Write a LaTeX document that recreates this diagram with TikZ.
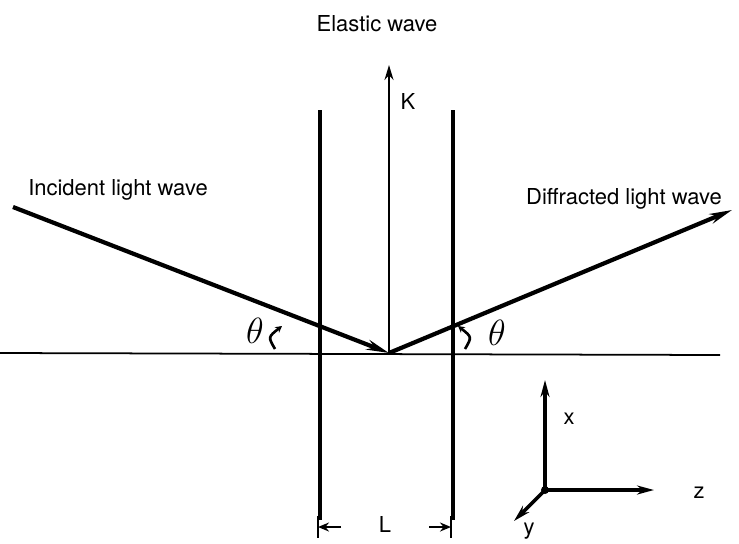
\documentclass[tikz,border=0pt]{standalone}
\usepackage{fontspec}
\setmainfont{TeX Gyre Heros}
\usepackage{tikz}
\usetikzlibrary{positioning,arrows.meta,calc}

\begin{document}
\begin{tikzpicture}[
		x=0.2mm, y=-0.2mm,
		font=\fontsize{12.5}{14}\selectfont,
		lbl/.style={inner sep=1pt},
		plate/.style={line width=2.4pt},
		wave/.style={line width=2.4pt, -{Stealth[length=4.5mm,width=2mm]}},
		thin/.style={line width=1pt},
		ax/.style={line width=2pt, -{Stealth[length=3.4mm,width=1.8mm]}},
		ang/.style={line width=1.5pt, -{Stealth[length=1.3mm,width=1.4mm]}},
		theta/.style={inner sep=1pt, font=\fontsize{21}{22}\selectfont}
		]
		\useasboundingbox (0,0) rectangle (739,543);
		% points
		\coordinate (o) at (389,353);
		\coordinate (src) at (13,207);
		\coordinate (dst) at (732,210);
		\coordinate (kt) at (389,65);
		\coordinate (hl) at (0,353);
		\coordinate (hr) at (720,355);
		\coordinate (p1t) at (320,110);
		\coordinate (p1b) at (320,520);
		\coordinate (p2t) at (453,110);
		\coordinate (p2b) at (453,520);
		% plates and surface
		\draw[thin] (hl) -- (hr);
		\draw[plate] (p1t) -- (p1b);
		\draw[plate] (p2t) -- (p2b);
		% elastic wave vector
		\draw[line width=1.2pt, -{Stealth[length=3mm,width=1.8mm]}] (o) -- (kt);
		\node[lbl] (elastic) at (377,24) {Elastic wave};
		\node[lbl] (klbl) at (408,101) {K};
		% light waves
		\draw[wave] (src) -- (o);
		\draw[wave] (o) -- (dst);
		\node[lbl] (incident) at (118,190) {Incident light wave};
		\node[lbl] (diffracted) at (624,199) {Diffracted light wave};
		% angles
		\node[theta] (thl) at (255,331) {$\theta$};
		\node[theta] (thr) at (497,333) {$\theta$};
		\draw[ang] (275,349) .. controls (268,337) .. (282,326);
		\draw[ang] (465,349) .. controls (472,337) .. (458,326);
		% width L
		\coordinate (l1) at (318,527);
		\coordinate (l2) at (451,527);
		\draw[line width=1.4pt] (318,516) -- (318,538);
		\draw[line width=1.4pt] (451,516) -- (451,538);
		\node[lbl] (len) at (385,524) {L};
		\draw[line width=1.4pt, -{Stealth[length=2.2mm,width=1.8mm]}] (341,527) -- (l1);
		\draw[line width=1.4pt, -{Stealth[length=2.2mm,width=1.8mm]}] (429,527) -- (l2);
		% axes
		\coordinate (ax0) at (545,490);
		\coordinate (axx) at (545,380);
		\coordinate (axz) at (654,490);
		\coordinate (axy) at (514,521);
		\fill (ax0) circle (4);
		\draw[ax] (ax0) -- (axx);
		\draw[ax] (ax0) -- (axz);
		\draw[ax] (ax0) -- (axy);
		\node[lbl] (xlbl) at (569,419) {x};
		\node[lbl] (zlbl) at (699,493) {z};
		\node[lbl] (ylbl) at (529,531) {y};
	\end{tikzpicture}
\end{document}
